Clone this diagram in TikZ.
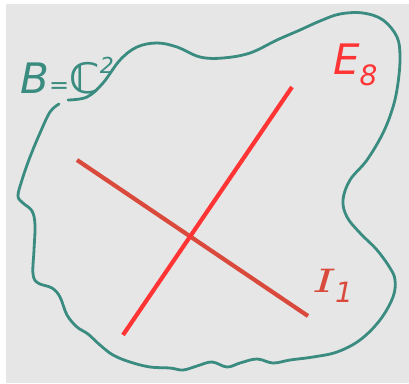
\documentclass[tikz,border=0pt]{standalone}
\usepackage{fontspec}
\setmainfont{DejaVu Sans}
\newfontfamily\serifI{DejaVu Serif}
\begin{document}
\begin{tikzpicture}[x=1pt,y=-1pt,
  blob/.style={line width=2.8pt, line cap=round, line join=round},
  lineE/.style={draw=redE, line width=4.2pt},
  lineI/.style={draw=redI, line width=4.2pt},
  lbl/.style={inner sep=0pt, anchor=base west, font=\itshape}]
\definecolor{bg}{HTML}{E6E6E6}
\definecolor{tealc}{HTML}{3A8B80}
\definecolor{redE}{HTML}{FF3535}
\definecolor{redI}{HTML}{D94A3C}
\useasboundingbox (0,0) rectangle (409,383);
\fill[white] (0,0) rectangle (409,383);
\fill[bg] (6,4) rectangle (409,383);
\draw[blob, draw=tealc] plot[smooth, tension=0.6] coordinates {
(59,104) (50,112) (40,133) (30,157) (22,180) (18,196) (23,203) (32,211) (35,225) (34,250) (33,274) (38,283) (52,288) (60,297) (67,315) (77,327) (88,334) (100,345) (113,355) (130,362) (150,367) (170,368) (183,370) (197,366) (212,362) (227,367) (240,363) (257,359) (273,363) (290,360) (313,357) (337,352) (360,340) (380,320) (393,297) (395,280) (390,268) (377,250) (360,233) (347,217) (343,200) (350,180) (367,160) (383,133) (393,107) (398,83) (400,57) (397,37) (383,20) (363,13) (340,14) (320,21) (300,30) (277,40) (250,53) (223,58) (200,57) (177,47) (157,43) (137,47) (120,60) (103,83) (87,97) (68,100)};
\coordinate (e1) at (292,87);
\coordinate (e2) at (123,335);
\coordinate (i1) at (77,160);
\coordinate (i2) at (308,316);
\draw[lineI] (i1) -- (i2);
\draw[lineE] (e1) -- (e2);
\node[lbl, text=tealc, font=\fontsize{42}{42}\selectfont\itshape] (B) at (20,93) {B{\fontsize{24}{24}\selectfont=}{\bfseries ℂ}\raisebox{20pt}{\fontsize{22}{22}\selectfont 2}};
\node[lbl, text=redE, font=\fontsize{42}{42}\selectfont\itshape] (E) at (333,74) {E\kern0pt\raisebox{-11pt}{\fontsize{28}{28}\selectfont 8}};
\node[lbl, text=redI, font=\fontsize{32}{32}\selectfont\itshape] (I) at (315,292) {\scalebox{1.5}[1]{\serifI\itshape I}\kern1pt\raisebox{-10pt}{\fontsize{28}{28}\selectfont 1}};
\end{tikzpicture}
\end{document}
